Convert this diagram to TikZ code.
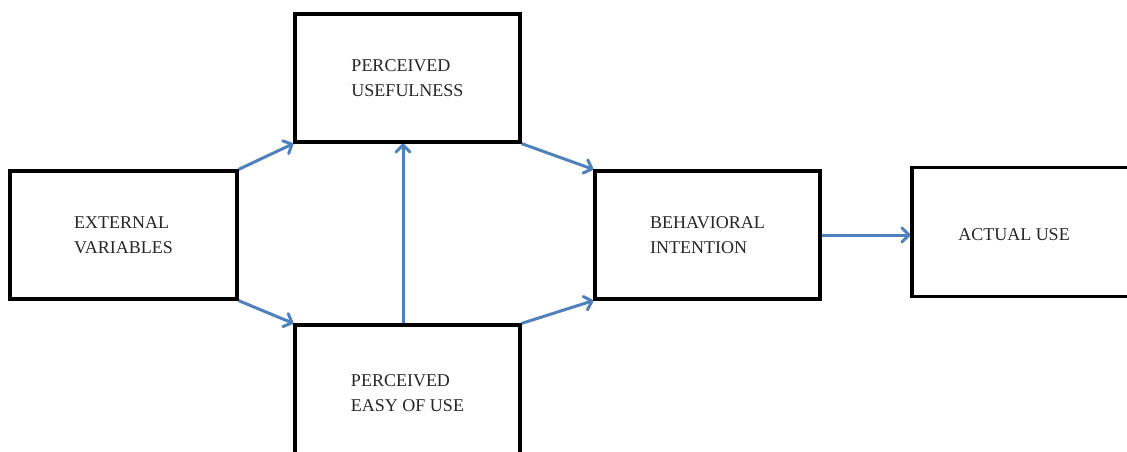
\documentclass[tikz,border=0pt]{standalone}
\usepackage{fontspec}
\setmainfont{Liberation Serif}
\usetikzlibrary{arrows.meta}
\definecolor{arrowblue}{RGB}{79,129,189}
\tikzset{
  box/.style={draw=black, line width=3.2pt, inner sep=0pt, align=left,
    font=\fontsize{18}{25}\selectfont, text=black!85},
  lbl/.style={inner sep=0pt, align=left, font=\fontsize{18}{25}\selectfont, text=black!85},
  link/.style={draw=arrowblue, line width=3pt, -{Straight Barb[length=7pt,width=14pt,line width=3pt,round]}}
}
\begin{document}
\begin{tikzpicture}[x=1pt,y=-1pt]
\clip (0,0) rectangle (1127,452);
\useasboundingbox (0,0) rectangle (1127,452);
\fill[white] (0,0) rectangle (1127,452);
\node[box, minimum width=227pt, minimum height=128pt] (ev) at (123.5,235) {EXTERNAL\\VARIABLES};
\node[box, minimum width=225pt, minimum height=128pt] (pu) at (407.5,78) {PERCEIVED\\USEFULNESS};
\node[box, minimum width=225pt, minimum height=137pt] (peou) at (407.5,393.5) {PERCEIVED\\EASY OF USE};
\node[box, minimum width=225pt, minimum height=128pt] (bi) at (707.5,235) {BEHAVIORAL\\INTENTION};
\node[box, minimum width=240pt, minimum height=129pt] (au) at (1032,232) {};
\node[lbl] (aut) at (1014,235) {ACTUAL USE};
\draw[link] (ev.north east) -- (pu.south west);
\draw[link] (ev.south east) -- (peou.north west);
\draw[link] ([xshift=-4.5pt]peou.north) -- ([xshift=-4.5pt]pu.south);
\draw[link] (pu.south east) -- (bi.north west);
\draw[link] (peou.north east) -- (bi.south west);
\draw[link] (bi.east) -- (au.west |- bi.east);
\end{tikzpicture}
\end{document}
